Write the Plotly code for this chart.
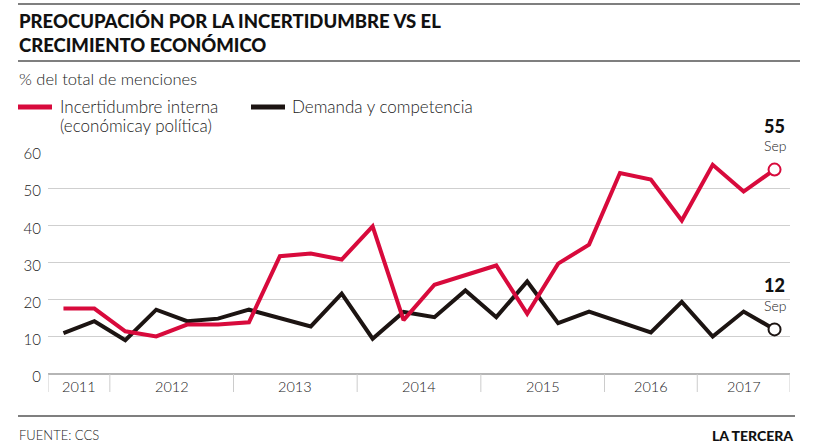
import plotly.graph_objects as go

# ---------------- data ----------------
periods = ["2011-T4", "2012-T1", "2012-T2", "2012-T3", "2012-T4",
           "2013-T1", "2013-T2", "2013-T3", "2013-T4",
           "2014-T1", "2014-T2", "2014-T3", "2014-T4",
           "2015-T1", "2015-T2", "2015-T3", "2015-T4",
           "2016-T1", "2016-T2", "2016-T3", "2016-T4",
           "2017-T1", "2017-T2", "2017-T3"]
incertidumbre = [17.6, 17.6, 11.5, 10.1, 13.3, 13.3, 13.9, 31.7, 32.4, 30.8,
                 39.7, 14.5, 24.0, 26.5, 29.2, 16.2, 29.7, 34.8, 54.1, 52.3,
                 41.3, 56.3, 49.1, 55]
demanda = [11.0, 14.2, 9.1, 17.3, 14.2, 14.9, 17.3, 15.1, 12.8, 21.6,
           9.5, 16.7, 15.3, 22.5, 15.3, 24.9, 13.7, 16.8, 14.0, 11.2,
           19.4, 10.1, 16.8, 12]
year_labels = ["2011", "2012", "2013", "2014", "2015", "2016", "2017"]
year_bounds = [-0.5, 1.5, 5.5, 9.5, 13.5, 17.5, 20.5, 23.5]
y_ticks = [0, 10, 20, 30, 40, 50, 60]
last_label = "Sep"

# ---------------- styling ----------------
W, H = 820, 445
L, R, T, B = 48, 30, 151, 71
PW, PH = W - L - R, H - T - B
RED = "#d80a3c"
BLK = "#1c1412"
TXT = "#222222"
FONT = "Lato"


def px(x):
    return (x - L) / PW


def py(y):
    return (H - B - y) / PH


x_idx = list(range(len(periods)))

fig = go.Figure()
fig.add_trace(go.Scatter(x=x_idx, y=demanda, mode="lines", name="Demanda y competencia",
                         line=dict(color=BLK, width=4), text=periods,
                         hovertemplate="%{text}: %{y}<extra></extra>"))
fig.add_trace(go.Scatter(x=x_idx, y=incertidumbre, mode="lines",
                         name="Incertidumbre interna (económica y política)",
                         line=dict(color=RED, width=4), text=periods,
                         hovertemplate="%{text}: %{y}<extra></extra>"))
# end markers
fig.add_trace(go.Scatter(x=[x_idx[-1]], y=[demanda[-1]], mode="markers", showlegend=False,
                         marker=dict(size=12, color="white", line=dict(color=BLK, width=2)),
                         hoverinfo="skip"))
fig.add_trace(go.Scatter(x=[x_idx[-1]], y=[incertidumbre[-1]], mode="markers", showlegend=False,
                         marker=dict(size=12, color="white", line=dict(color=RED, width=2)),
                         hoverinfo="skip"))

shapes = []
annotations = []

# horizontal rules
for yy, x1 in [(4, 800), (61, 800), (416, 795)]:
    shapes.append(dict(type="line", xref="paper", yref="paper", x0=px(18), x1=px(x1),
                       y0=py(yy), y1=py(yy), line=dict(color="#555555", width=1.5)))

# title
for yy, t in [(20.5, "PREOCUPACIÓN POR LA INCERTIDUMBRE VS EL"), (44.5, "CRECIMIENTO ECONÓMICO")]:
    annotations.append(dict(xref="paper", yref="paper", x=px(17), y=py(yy), xanchor="left",
                            yanchor="middle", showarrow=False, text=t,
                            font=dict(family=FONT, size=18.5, color="#111111", weight=900)))
annotations.append(dict(xref="paper", yref="paper", x=px(17), y=py(79), xanchor="left",
                        yanchor="middle", showarrow=False, text="% del total de menciones",
                        font=dict(family=FONT, size=16.5, color=TXT, weight=300)))

# legend
shapes.append(dict(type="line", xref="paper", yref="paper", x0=px(18), x1=px(52),
                   y0=py(107), y1=py(107), line=dict(color=RED, width=5)))
shapes.append(dict(type="line", xref="paper", yref="paper", x0=px(251), x1=px(285),
                   y0=py(107), y1=py(107), line=dict(color=BLK, width=5)))
for xx, yy, t in [(58, 106, "Incertidumbre interna"), (58, 126, "(económicay política)"),
                  (290, 106, "Demanda y competencia")]:
    annotations.append(dict(xref="paper", yref="paper", x=px(xx), y=py(yy), xanchor="left",
                            yanchor="middle", showarrow=False, text=t,
                            font=dict(family=FONT, size=17, color=TXT, weight=300)))

# end labels
for val, series in [(incertidumbre[-1], incertidumbre), (demanda[-1], demanda)]:
    annotations.append(dict(xref="x", yref="y", x=x_idx[-1], y=series[-1], yshift=44,
                            xanchor="center", yanchor="middle", showarrow=False,
                            text=f"{val:g}", font=dict(family=FONT, size=18, color="#111111", weight=900)))
    annotations.append(dict(xref="x", yref="y", x=x_idx[-1], y=series[-1], yshift=24,
                            xanchor="center", yanchor="middle", showarrow=False,
                            text=last_label, font=dict(family=FONT, size=14, color=TXT, weight=300)))

# year band
for b in year_bounds:
    shapes.append(dict(type="line", xref="x", yref="paper", x0=b, x1=b, y0=0, y1=py(392),
                       line=dict(color="#cccccc", width=1)))
for i, lab in enumerate(year_labels):
    annotations.append(dict(xref="x", yref="paper", x=(year_bounds[i] + year_bounds[i + 1]) / 2,
                            y=py(386), xanchor="center", yanchor="middle", showarrow=False,
                            text=lab, font=dict(family=FONT, size=14.5, color=TXT, weight=300)))

# footer
annotations.append(dict(xref="paper", yref="paper", x=px(17), y=py(435), xanchor="left",
                        yanchor="middle", showarrow=False, text="FUENTE: CCS",
                        font=dict(family=FONT, size=13, color=TXT, weight=300)))
annotations.append(dict(xref="paper", yref="paper", x=px(795), y=py(435), xanchor="right",
                        yanchor="middle", showarrow=False, text="LA TERCERA",
                        font=dict(family=FONT, size=14, color="#111111", weight=900)))

fig.update_layout(
    width=W, height=H, margin=dict(l=L, r=R, t=T, b=B, autoexpand=False),
    paper_bgcolor="white", plot_bgcolor="white", showlegend=False,
    shapes=shapes, annotations=annotations,
    xaxis=dict(range=[year_bounds[0], year_bounds[-1]], showgrid=False, zeroline=False,
               showticklabels=False, ticks="", showline=False, fixedrange=True),
    yaxis=dict(range=[0, 60], tickvals=y_ticks, showgrid=True, gridcolor="#cfcfcf", gridwidth=1,
               zeroline=True, zerolinecolor="#b5b5b5", zerolinewidth=1.5, ticks="",
               showline=False, ticklabelstandoff=6, ticklabelshift=3,
               tickfont=dict(family=FONT, size=15, color=TXT, weight=300), fixedrange=True),
    font=dict(family=FONT, color=TXT),
)

fig.write_html("out.html", config={"displayModeBar": False},
               post_script="document.body.style.margin='0';document.body.style.overflow='hidden';")
